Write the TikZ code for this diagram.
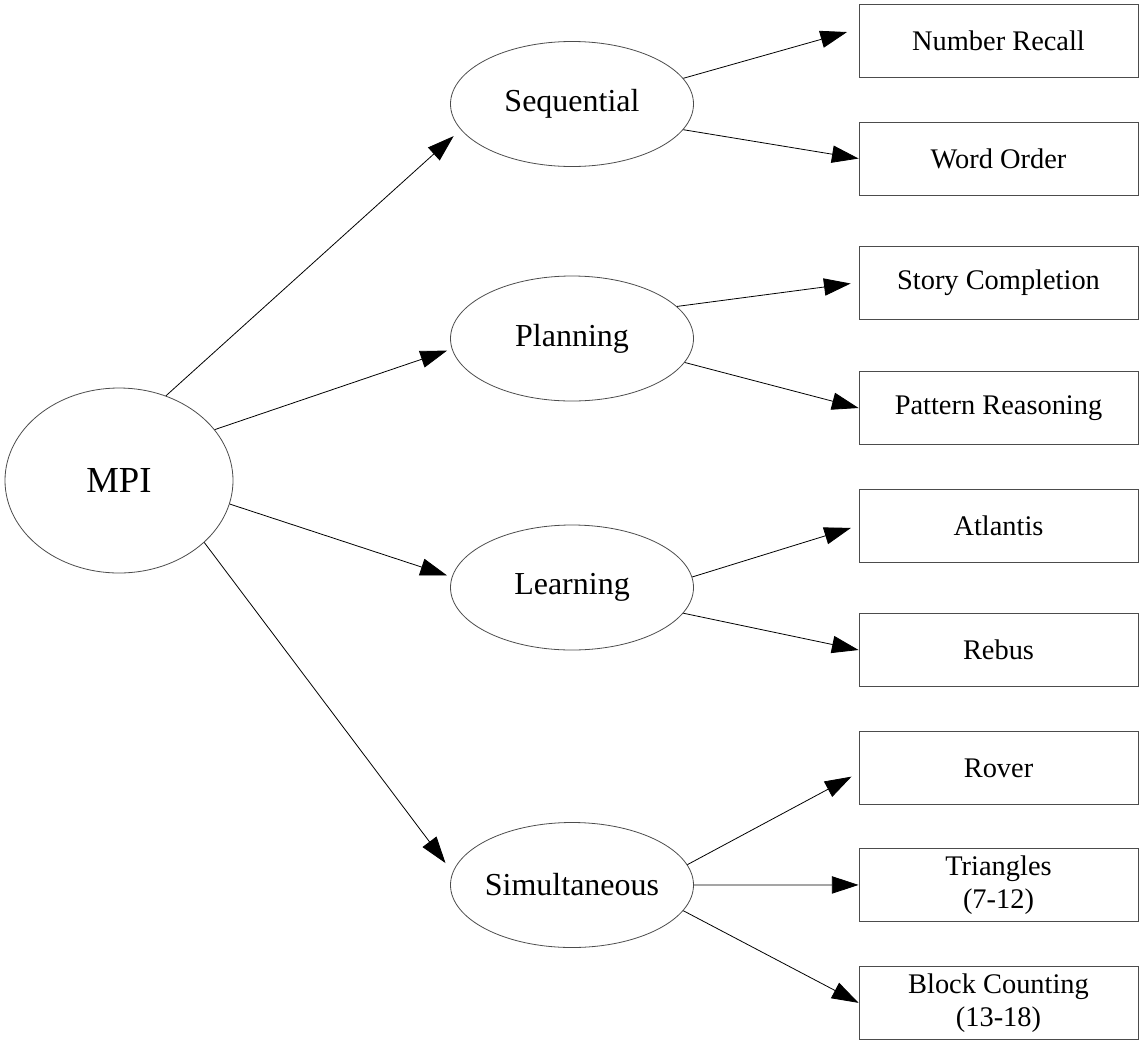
\documentclass[tikz,border=0pt]{standalone}
\usepackage{fontspec}
\setmainfont{Liberation Serif}
\usetikzlibrary{shapes.geometric, arrows.meta, positioning}

\begin{document}
\begin{tikzpicture}[x=0.75pt, y=-0.75pt, line width=0.6pt,
>={Triangle[length=20pt, width=13pt, color=black]},
index node/.style={
ellipse,
draw=black!70,
inner sep=0pt,
minimum width=171pt,
minimum height=138.75pt,
font=\fontsize{27.5}{32}\selectfont
},
scale node/.style={
ellipse,
draw=black!70,
inner sep=-10pt,
minimum width=182.25pt,
minimum height=93.75pt,
font=\fontsize{24}{28}\selectfont
},
test node/.style={
rectangle,
draw=black!70,
inner sep=0pt,
minimum width=209.25pt,
minimum height=54.75pt,
align=center,
font=\fontsize{21.3}{24.5}\selectfont
}
]

\useasboundingbox (0,0) rectangle (1139,1043);

\node[index node] (mpi) at (119,480.5) {MPI};

\node[scale node] (seq) at (572,104) {Sequential};
\node[scale node] (plan) at (572,338.5) {Planning};
\node[scale node] (learn) at (572,587.5) {Learning};
\node[scale node] (sim) at (572,885) {Simultaneous};

\node[test node] (recall) at (998.5,41) {Number Recall};
\node[test node] (order) [below=32.8pt of recall] {Word Order};
\node[test node] (story) [below=37.6pt of order] {Story Completion};
\node[test node] (pattern) [below=38.8pt of story] {Pattern Reasoning};
\node[test node] (atlantis) [below=32.8pt of pattern] {Atlantis};
\node[test node] (rebus) [below=38pt of atlantis] {Rebus};
\node[test node] (rover) [below=33.1pt of rebus] {Rover};
\node[test node] (triangles) [below=32.4pt of rover] {Triangles\\(7-12)};
\node[test node] (block) [below=33.1pt of triangles] {Block Counting\\(13-18)};

\draw[->, shorten >=7.2pt] (mpi.61) -- (seq.193);
\draw[->, shorten >=3.8pt] (mpi.28) -- (plan.185);
\draw[->, shorten >=3.8pt] (mpi.-12) -- (learn.175);
\draw[->, shorten >=8.8pt] (mpi.-36) -- (sim.174);

\draw[->, shorten >=9pt] (seq.13) -- (recall.175);
\draw[->] (seq.-13) -- (order.west);

\draw[->, shorten >=6pt] (plan.17) -- (story.west);
\draw[->] (plan.-12) -- (pattern.west);

\draw[->, shorten >=6pt] (learn.5) -- (atlantis.west);
\draw[->] (learn.-13) -- (rebus.west);

\draw[->, shorten >=6pt] (sim.10) -- (rover.182);
\draw[->] (sim.east) -- (triangles.west);
\draw[->] (sim.-13) -- (block.west);

\end{tikzpicture}
\end{document}
